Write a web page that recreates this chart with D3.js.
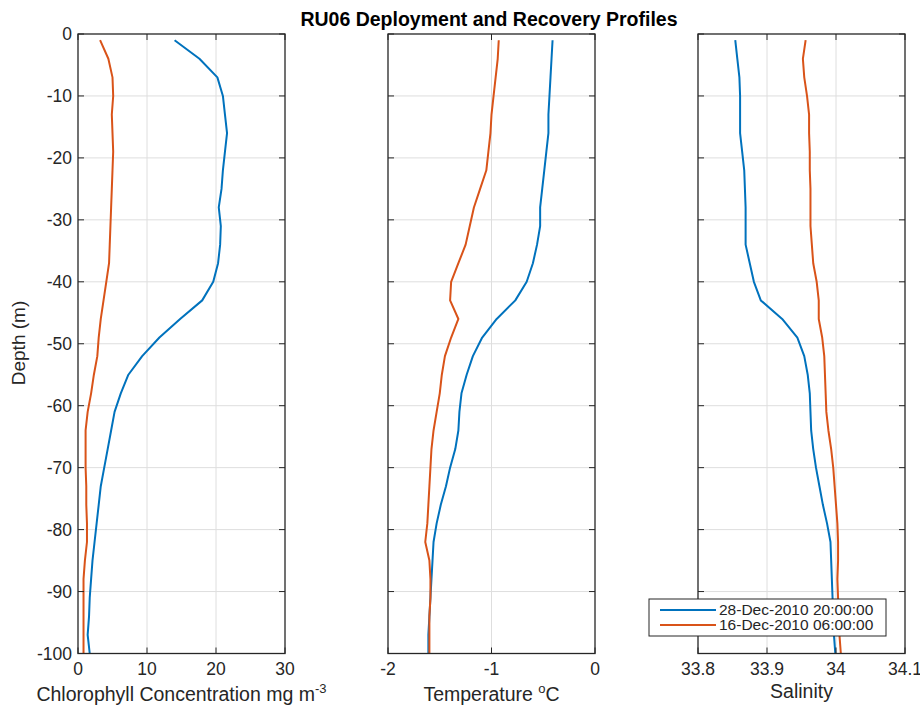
<!DOCTYPE html>
<html><head><meta charset="utf-8">
<script src="https://cdn.jsdelivr.net/npm/d3@7"></script>
<style>body{margin:0;background:#fff}svg{display:block}text{font-family:"Liberation Sans",Arial,Helvetica,sans-serif;fill:#262626}</style>
</head><body><svg id="c" width="920" height="705"></svg>
<script>
const depths = [-1,-4,-7,-10,-13,-16,-19,-22,-25,-28,-31,-34,-37,-40,-43,-46,-49,-52,-55,-58,-61,-64,-67,-70,-73,-76,-79,-82,-85,-88,-91,-94,-97,-100];
const seriesNames = ["28-Dec-2010 20:00:00","16-Dec-2010 06:00:00"];
const chlA = [14.0,17.6,20.2,21.0,21.3,21.6,21.3,21.0,20.8,20.4,20.7,20.6,20.3,19.6,18.0,14.8,11.8,9.3,7.3,6.2,5.3,4.8,4.3,3.8,3.3,3.0,2.7,2.4,2.1,1.9,1.7,1.6,1.4,1.7];
const chlB = [3.2,4.4,5.0,5.1,4.9,5.0,5.1,5.0,4.9,4.8,4.7,4.6,4.5,4.1,3.7,3.3,3.0,2.8,2.3,1.9,1.4,1.1,1.1,1.1,1.2,1.2,1.3,1.3,1.0,0.8,0.8,0.8,0.8,0.8];
const tempA = [-0.41,-0.42,-0.43,-0.44,-0.45,-0.45,-0.47,-0.49,-0.51,-0.53,-0.53,-0.56,-0.60,-0.66,-0.77,-0.95,-1.09,-1.18,-1.24,-1.29,-1.31,-1.32,-1.35,-1.40,-1.44,-1.49,-1.53,-1.56,-1.57,-1.58,-1.59,-1.60,-1.61,-1.61];
const tempB = [-0.93,-0.94,-0.96,-0.98,-1.00,-1.01,-1.03,-1.05,-1.11,-1.17,-1.21,-1.25,-1.32,-1.39,-1.40,-1.32,-1.39,-1.45,-1.48,-1.50,-1.53,-1.56,-1.58,-1.59,-1.60,-1.61,-1.62,-1.64,-1.60,-1.59,-1.59,-1.60,-1.60,-1.60];
const salA = [33.854,33.857,33.860,33.861,33.861,33.861,33.864,33.867,33.868,33.869,33.869,33.869,33.875,33.881,33.891,33.922,33.944,33.954,33.959,33.962,33.963,33.964,33.967,33.971,33.976,33.981,33.987,33.992,33.993,33.994,33.995,33.996,33.997,33.999];
const salB = [33.956,33.952,33.954,33.958,33.961,33.961,33.962,33.962,33.963,33.963,33.963,33.965,33.967,33.972,33.975,33.975,33.980,33.983,33.984,33.985,33.986,33.989,33.993,33.996,33.998,34.000,34.002,34.003,34.003,34.002,34.003,34.004,34.005,34.007];
const yTicks = [0,-10,-20,-30,-40,-50,-60,-70,-80,-90,-100];
const chlTicks = [0,10,20,30];
const tempTicks = [-2,-1,0];
const salTicks = [33.8,33.9,34,34.1];
const colors = ["#0072BD","#D95319"];

const svg = d3.select("#c");
const plotTop = 34, plotBottom = 653.5;
const y = d3.scaleLinear().domain([0,-100]).range([plotTop,plotBottom]);
const panels = [
  {x0:78, x1:285, domain:[0,30], ticks:chlTicks, fmt:d=>d, data:[chlA,chlB], ylabels:true},
  {x0:388, x1:595, domain:[-2,0], ticks:tempTicks, fmt:d=>d, data:[tempA,tempB], ylabels:false},
  {x0:698, x1:905, domain:[33.8,34.1], ticks:salTicks, fmt:d=>d3.format(".1f")(d).replace(/\.0$/,""), data:[salA,salB], ylabels:false}
];
const tl = 6, tickFont = 17.5;
panels.forEach(p=>{
  const x = d3.scaleLinear().domain(p.domain).range([p.x0,p.x1]);
  const g = svg.append("g");
  g.selectAll(".gx").data(p.ticks.slice(1,-1)).enter().append("line")
    .attr("x1",d=>x(d)).attr("x2",d=>x(d)).attr("y1",plotTop).attr("y2",plotBottom)
    .attr("stroke","#dedede").attr("stroke-width",1);
  g.selectAll(".gy").data(yTicks.slice(1,-1)).enter().append("line")
    .attr("y1",d=>y(d)).attr("y2",d=>y(d)).attr("x1",p.x0).attr("x2",p.x1)
    .attr("stroke","#dedede").attr("stroke-width",1);
  const line = (vals)=>d3.line().x((d,i)=>x(vals[i])).y(d=>y(d))(depths);
  p.data.forEach((vals,k)=>{
    g.append("path").attr("d",line(vals)).attr("fill","none").attr("stroke",colors[k]).attr("stroke-width",2).attr("stroke-linejoin","round");
  });
  const ax = "#262626";
  p.ticks.forEach(t=>{
    g.append("line").attr("x1",x(t)).attr("x2",x(t)).attr("y1",plotBottom).attr("y2",plotBottom-tl).attr("stroke",ax);
    g.append("line").attr("x1",x(t)).attr("x2",x(t)).attr("y1",plotTop).attr("y2",plotTop+tl).attr("stroke",ax);
    g.append("text").attr("x",x(t)).attr("y",675).attr("text-anchor","middle").attr("font-size",tickFont).text(p.fmt(t));
  });
  yTicks.forEach(t=>{
    g.append("line").attr("y1",y(t)).attr("y2",y(t)).attr("x1",p.x0).attr("x2",p.x0+tl).attr("stroke",ax);
    g.append("line").attr("y1",y(t)).attr("y2",y(t)).attr("x1",p.x1).attr("x2",p.x1-tl).attr("stroke",ax);
    if(p.ylabels) g.append("text").attr("x",p.x0-6).attr("y",y(t)+6.3).attr("text-anchor","end").attr("font-size",tickFont).text(t);
  });
  g.append("rect").attr("x",p.x0).attr("y",plotTop).attr("width",p.x1-p.x0).attr("height",plotBottom-plotTop)
    .attr("fill","none").attr("stroke",ax).attr("stroke-width",1.3);
});
const labFont = 19.5;
const xl1 = svg.append("text").attr("x",181.5).attr("y",701).attr("text-anchor","middle").attr("font-size",labFont);
xl1.append("tspan").text("Chlorophyll Concentration mg m");
xl1.append("tspan").attr("dy",-8).attr("font-size",13).text("-3");
const xl2 = svg.append("text").attr("x",491.5).attr("y",701).attr("text-anchor","middle").attr("font-size",labFont);
xl2.append("tspan").text("Temperature ");
xl2.append("tspan").attr("dy",-8).attr("font-size",13).text("o");
xl2.append("tspan").attr("dy",8).text("C");
svg.append("text").attr("x",801.5).attr("y",698).attr("text-anchor","middle").attr("font-size",labFont).text("Salinity");
svg.append("text").attr("transform","translate(25,343) rotate(-90)").attr("text-anchor","middle").attr("font-size",19).text("Depth (m)");
svg.append("text").attr("x",489).attr("y",26).attr("text-anchor","middle").attr("font-size",19.5).attr("font-weight","bold").style("fill","#000").text("RU06 Deployment and Recovery Profiles");
const lg = svg.append("g");
lg.append("rect").attr("x",649).attr("y",599).attr("width",237).attr("height",37).attr("fill","#fff").attr("stroke","#262626").attr("stroke-width",1);
seriesNames.forEach((n,i)=>{
  const yy = 610+i*15;
  lg.append("line").attr("x1",660).attr("x2",716).attr("y1",yy).attr("y2",yy).attr("stroke",colors[i]).attr("stroke-width",2);
  lg.append("text").attr("x",719).attr("y",yy+5.3).attr("font-size",15.5).text(n);
});
</script></body></html>
